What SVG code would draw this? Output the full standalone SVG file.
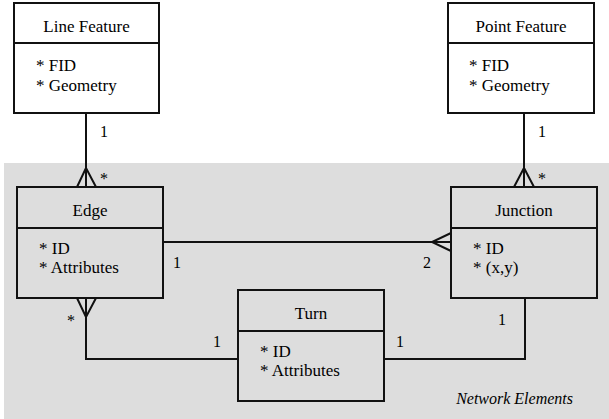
<svg xmlns="http://www.w3.org/2000/svg" width="609" height="419" viewBox="0 0 609 419">
<style>
.f{font-family:"Liberation Serif";font-size:17px}
.m{font-family:"Liberation Serif";font-size:16px;text-anchor:middle}
.t{text-anchor:middle}
.box{fill:#fff;stroke:#111;stroke-width:2}
.gbox{fill:#dddddd;stroke:#111;stroke-width:2}
.ln{fill:none;stroke:#111;stroke-width:2}
</style>
<rect x="4" y="163" width="605" height="256" fill="#dddddd"/>
<g id="connectors">
<path class="ln" d="M86,113 V187 M77,187 L86,168 L96,187"/>
<path class="ln" d="M524,113 V187 M514,187 L524,168 L534,187"/>
<path class="ln" d="M163,242 H451 M451,233 L432,242 L451,251"/>
<path class="ln" d="M86,298 V359 H238 M77,298 L86,317 L96,298"/>
<path class="ln" d="M384,359 H525 V298"/>
<text class="m" x="104" y="137">1</text>
<text class="m" x="104" y="184">*</text>
<text class="m" x="542" y="137">1</text>
<text class="m" x="542" y="184">*</text>
<text class="m" x="177" y="268">1</text>
<text class="m" x="427" y="268">2</text>
<text class="m" x="71" y="326">*</text>
<text class="m" x="217" y="347">1</text>
<text class="m" x="400" y="347">1</text>
<text class="m" x="502" y="325">1</text>
</g>
<g id="line-feature">
<rect class="box" x="14" y="3" width="145" height="110"/>
<line class="ln" x1="14" y1="43" x2="159" y2="43"/>
<text class="f t" x="86.5" y="32">Line Feature</text>
<text class="f" x="36" y="71">* FID</text>
<text class="f" x="36" y="91">* Geometry</text>
</g>
<g id="point-feature">
<rect class="box" x="448" y="3" width="146" height="110"/>
<line class="ln" x1="448" y1="43" x2="594" y2="43"/>
<text class="f t" x="521" y="32">Point Feature</text>
<text class="f" x="469" y="71">* FID</text>
<text class="f" x="469" y="91">* Geometry</text>
</g>
<g id="edge">
<rect class="gbox" x="17" y="187" width="146" height="111"/>
<line class="ln" x1="17" y1="228" x2="163" y2="228"/>
<text class="f t" x="90" y="216">Edge</text>
<text class="f" x="39" y="254">* ID</text>
<text class="f" x="39" y="273">* Attributes</text>
</g>
<g id="junction">
<rect class="gbox" x="451" y="187" width="146" height="111"/>
<line class="ln" x1="451" y1="228" x2="597" y2="228"/>
<text class="f t" x="524" y="216">Junction</text>
<text class="f" x="473" y="254">* ID</text>
<text class="f" x="473" y="273">* (x,y)</text>
</g>
<g id="turn">
<rect class="gbox" x="238" y="290" width="146" height="111"/>
<line class="ln" x1="238" y1="331" x2="384" y2="331"/>
<text class="f t" x="311" y="319">Turn</text>
<text class="f" x="260" y="357">* ID</text>
<text class="f" x="260" y="376">* Attributes</text>
</g>
<text class="f" x="573" y="404" style="font-size:16px;font-style:italic;text-anchor:end">Network Elements</text>
</svg>
